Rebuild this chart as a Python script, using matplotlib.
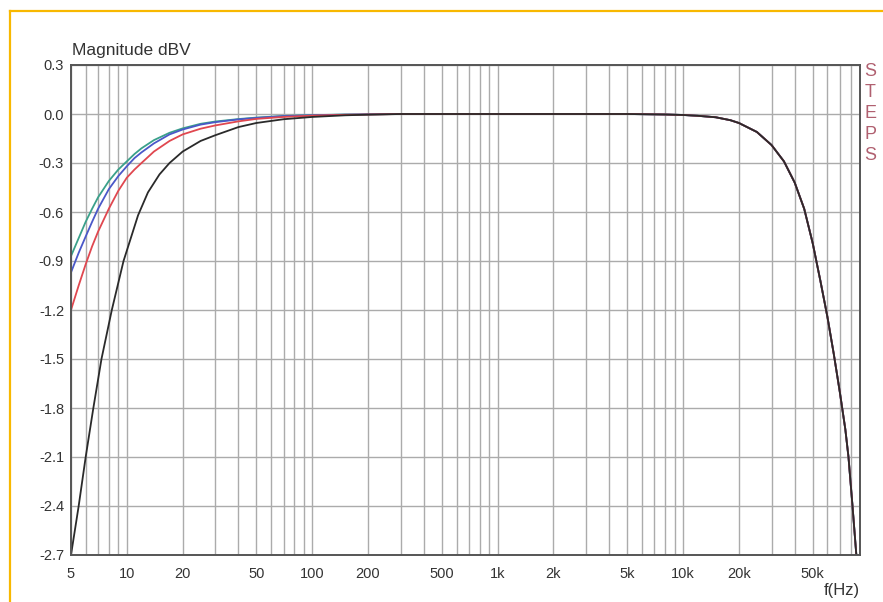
import numpy as np
import matplotlib
matplotlib.use("Agg")
import matplotlib.pyplot as plt
from matplotlib.lines import Line2D
from matplotlib.ticker import FixedLocator, FixedFormatter, LogLocator, NullFormatter

plt.rcParams['font.family'] = ['Liberation Sans', 'DejaVu Sans']

# low-frequency part of the three coloured curves (Hz, dBV)
freq_lf = [5, 5.5, 6, 6.5, 7, 8, 9, 10, 11, 12, 14, 17, 20, 25, 30, 40, 50, 70, 100, 150, 200, 300]
red_lf = [-1.2, -1.05, -0.92, -0.81, -0.72, -0.58, -0.47, -0.39, -0.34, -0.3, -0.23, -0.165,
          -0.125, -0.09, -0.07, -0.045, -0.03, -0.018, -0.01, -0.005, -0.003, 0.0]
blue_lf = [-0.97, -0.85, -0.75, -0.66, -0.58, -0.46, -0.38, -0.32, -0.27, -0.235, -0.18, -0.125,
           -0.095, -0.065, -0.05, -0.033, -0.024, -0.013, -0.008, -0.004, -0.002, 0.0]
green_lf = [-0.87, -0.76, -0.66, -0.58, -0.51, -0.41, -0.34, -0.29, -0.245, -0.21, -0.16, -0.115,
            -0.088, -0.06, -0.046, -0.031, -0.022, -0.012, -0.007, -0.003, -0.002, 0.0]

# low-frequency part of the black curve
freq_blk = [5, 5.5, 6, 6.6, 7.3, 8.3, 9.6, 11.5, 13, 15, 17, 20, 25, 30, 40, 50, 70, 100, 150, 200, 300]
black_lf = [-2.7, -2.4, -2.1, -1.8, -1.5, -1.2, -0.9, -0.62, -0.48, -0.37, -0.3, -0.23, -0.165,
            -0.13, -0.08, -0.055, -0.032, -0.018, -0.008, -0.004, 0.0]

# shared mid band and high-frequency roll-off
freq_hf = [500, 1000, 2000, 5000, 8000, 10000, 12000, 15000, 18000, 20000, 25000, 30000, 35000,
           40000, 45000, 50000, 55000, 60000, 65000, 70000, 75000, 78000, 82000, 86000, 88000]
val_hf = [0.0, 0.0, 0.0, 0.0, -0.003, -0.006, -0.011, -0.02, -0.038, -0.055, -0.11, -0.19, -0.29,
          -0.42, -0.58, -0.79, -1.02, -1.24, -1.47, -1.7, -1.93, -2.1, -2.4, -2.7, -2.85]

xticks = [5, 10, 20, 50, 100, 200, 500, 1000, 2000, 5000, 10000, 20000, 50000]
xlabels = ['5', '10', '20', '50', '100', '200', '500', '1k', '2k', '5k', '10k', '20k', '50k']
yticks = [0.3, 0.0, -0.3, -0.6, -0.9, -1.2, -1.5, -1.8, -2.1, -2.4, -2.7]

fig = plt.figure(figsize=(8.83, 6.02), dpi=100)
ax = fig.add_axes([71 / 883, 1 - 555 / 602, (860 - 71) / 883, (555 - 65) / 602])

curves = [
    (freq_lf, green_lf, '#3aa08a'),
    (freq_lf, blue_lf, '#4a58c8'),
    (freq_lf, red_lf, '#e0474f'),
    (freq_blk, black_lf, '#2a2a2a'),
]
for f, v, c in curves:
    ax.plot(f + freq_hf, v + val_hf, color=c, lw=1.3, solid_joinstyle='round')

ax.set_xscale('log')
ax.set_xlim(5, 90000)
ax.set_ylim(-2.7, 0.3)

ax.xaxis.set_major_locator(FixedLocator(xticks))
ax.xaxis.set_major_formatter(FixedFormatter(xlabels))
ax.xaxis.set_minor_locator(LogLocator(base=10, subs=np.arange(1, 10), numticks=20))
ax.xaxis.set_minor_formatter(NullFormatter())
ax.set_yticks(yticks)
ax.set_yticklabels(['%.1f' % t for t in yticks])

ax.grid(True, which='both', axis='x', color='#ababab', lw=1.0)
ax.grid(True, which='major', axis='y', color='#ababab', lw=1.0)
ax.set_axisbelow(True)
ax.tick_params(which='both', length=0, labelsize=10.5, colors='#333333')
ax.tick_params(axis='x', pad=9)
ax.tick_params(axis='y', pad=5)
for s in ax.spines.values():
    s.set_color('#555555')
    s.set_linewidth(1.4)

fig.text(72 / 883, 1 - 50 / 602, 'Magnitude dBV', fontsize=12.5, color='#333333', va='center')
fig.text(842 / 883, 1 - 591 / 602, 'f(Hz)', fontsize=12, color='#333333', ha='center', va='center')
fig.text(870 / 883, 1 - 63 / 602, 'S\nT\nE\nP\nS', fontsize=13, color='#b06070',
         ha='center', va='top', linespacing=1.3)

# orange frame around the picture
fig.add_artist(Line2D([9.5 / 883, 9.5 / 883], [0, 1 - 10.5 / 602], color='#f8b800', lw=1.6,
                      transform=fig.transFigure))
fig.add_artist(Line2D([9.5 / 883, 1], [1 - 10.5 / 602, 1 - 10.5 / 602], color='#f8b800', lw=1.6,
                      transform=fig.transFigure))

fig.savefig('out.png', dpi=100)
